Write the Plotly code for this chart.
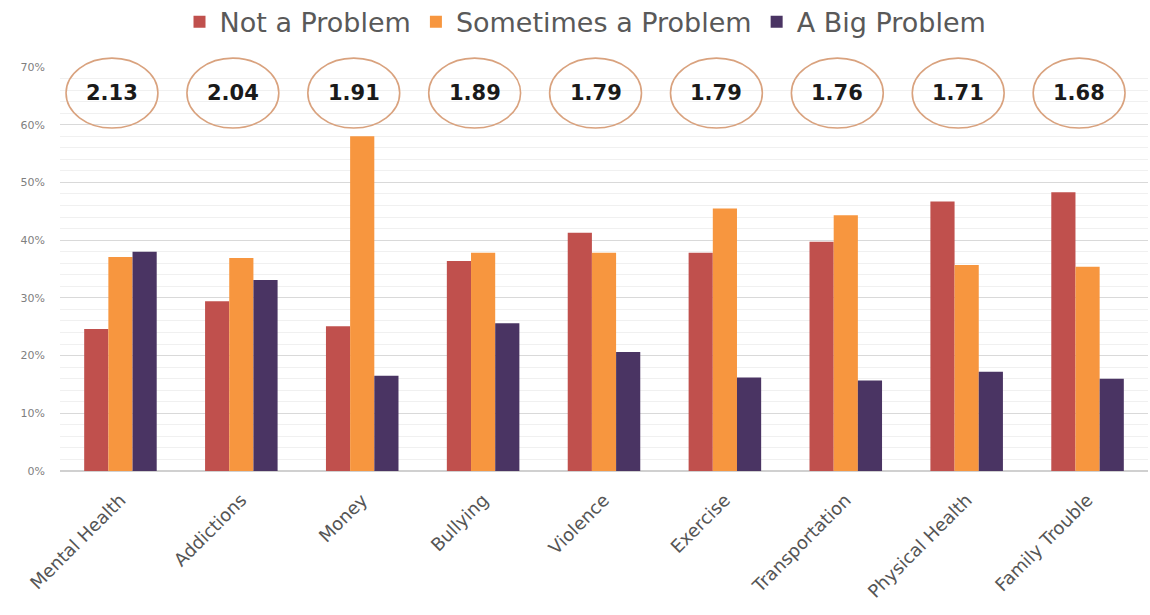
import plotly.graph_objects as go

# Survey results: share of respondents rating each issue
categories = ["Mental Health", "Addictions", "Money", "Bullying", "Violence",
              "Exercise", "Transportation", "Physical Health", "Family Trouble"]
not_a_problem = [0.246, 0.294, 0.251, 0.364, 0.413, 0.378, 0.397, 0.467, 0.483]
sometimes_a_problem = [0.371, 0.369, 0.580, 0.378, 0.378, 0.455, 0.443, 0.357, 0.354]
a_big_problem = [0.380, 0.331, 0.165, 0.256, 0.206, 0.162, 0.157, 0.172, 0.160]
# Average severity score per issue
scores = ["2.13", "2.04", "1.91", "1.89", "1.79", "1.79", "1.76", "1.71", "1.68"]

series = [
    ("Not a Problem", not_a_problem, "#c0504d"),
    ("Sometimes a Problem", sometimes_a_problem, "#f7963f"),
    ("A Big Problem", a_big_problem, "#4a3463"),
]

fig = go.Figure()
for name, vals, color in series:
    fig.add_trace(go.Bar(
        name=name, x=categories, y=vals,
        marker=dict(color=color, line=dict(width=0)),
    ))

# Circled average scores above each group
for i, s in enumerate(scores):
    cx = i - 0.07
    fig.add_shape(
        type="circle", xref="x", yref="paper",
        x0=cx - 0.38, x1=cx + 0.38, y0=0.849, y1=1.022,
        line=dict(color="#d9a27e", width=1.6),
        fillcolor="rgba(0,0,0,0)", layer="above",
    )
    fig.add_annotation(
        x=cx, y=0.936, xref="x", yref="paper", text=s, showarrow=False,
        xanchor="center", yanchor="middle",
        font=dict(family="DejaVu Sans", size=21, color="#1a1a1a", weight="bold"),
    )

fig.update_layout(
    width=1150, height=615,
    margin=dict(l=60, r=2, t=67, b=144, autoexpand=False),
    paper_bgcolor="white", plot_bgcolor="white",
    barmode="group", bargap=0.4, bargroupgap=0,
    font=dict(family="DejaVu Sans", color="#595959"),
    legend=dict(
        orientation="h", x=0.483, xanchor="center", y=1.111, yanchor="middle",
        font=dict(size=27, color="#595959"), itemwidth=30,
        traceorder="normal",
    ),
    xaxis=dict(
        tickangle=-45, tickfont=dict(size=18, color="#555555"),
        showgrid=False, showline=False, ticks="",
        ticklabelstandoff=14,
    ),
    yaxis=dict(
        range=[0, 0.70], dtick=0.10, tickformat=".0%",
        tickfont=dict(size=11, color="#7f7f7f"),
        showgrid=True, gridcolor="#d9d9d9", gridwidth=1,
        zeroline=True, zerolinecolor="#d0d0d0", zerolinewidth=1.5,
        ticklabelstandoff=14,
        minor=dict(dtick=0.02, showgrid=True, gridcolor="#f0f0f0", gridwidth=1),
    ),
)

fig.write_html("out.html")
